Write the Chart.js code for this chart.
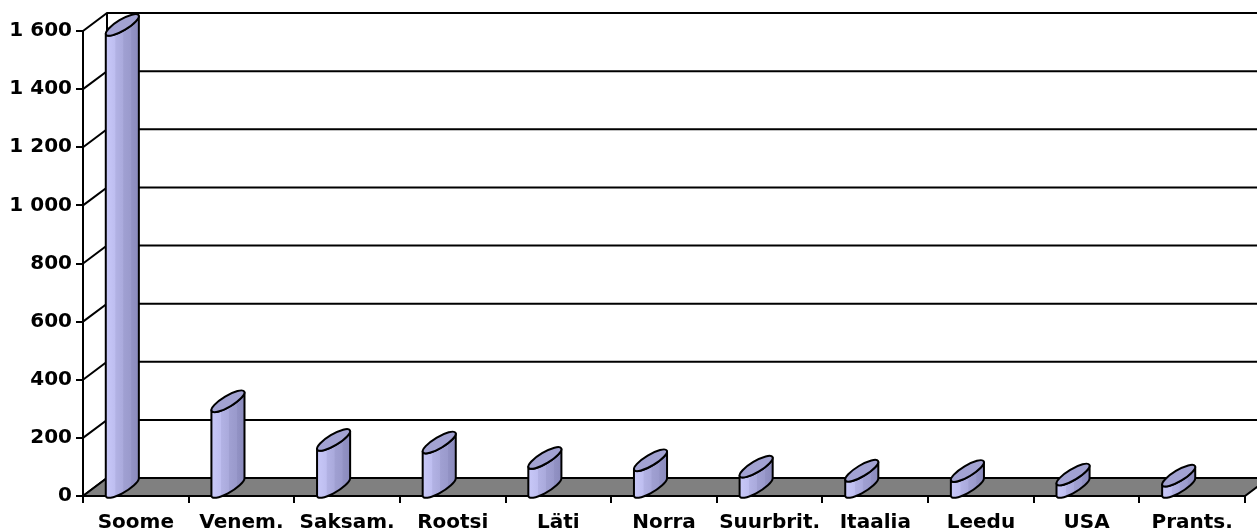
<!DOCTYPE html>
<html>
<head>
<meta charset="utf-8">
<script src="https://cdn.jsdelivr.net/npm/chart.js@4"></script>
<style>
  html, body { margin: 0; padding: 0; background: #fff; }
  #wrap { width: 1257px; height: 531px; }
</style>
</head>
<body>
<div id="wrap"><canvas id="chart"></canvas></div>
<script>
const countries = ['Soome', 'Venem.', 'Saksam.', 'Rootsi', 'Läti', 'Norra', 'Suurbrit.', 'Itaalia', 'Leedu', 'USA', 'Prants.'];
const visitors = [1590, 295, 162, 153, 100, 92, 70, 56, 55, 43, 39];
const yTicks = [0, 200, 400, 600, 800, 1000, 1200, 1400, 1600];

// depth of the 3d box (px)
const DX = 24, DY = 18;

function fmt(v) {
    return String(v).replace(/\B(?=(\d{3})+(?!\d))/g, ' ');
}

function drawCylinder(ctx, cx, yTop, yBot) {
    const a = 19, b = 5.5, r = -0.54;
    const pt = t => [a * Math.cos(t) * Math.cos(r) - b * Math.sin(t) * Math.sin(r),
                     a * Math.cos(t) * Math.sin(r) + b * Math.sin(t) * Math.cos(r)];
    let t0 = Math.atan2(-b * Math.sin(r), a * Math.cos(r));
    let t1 = t0 + Math.PI;
    let tL = t0, tR = t1;
    if (pt(t0)[0] > pt(t1)[0]) { tL = t1; tR = t0; }
    const L = pt(tL), R = pt(tR);
    // which way round is the front half
    let d = ((tR - tL) % (2 * Math.PI) + 2 * Math.PI) % (2 * Math.PI);
    const anti = pt(tL + d / 2)[1] < 0;

    const grad = ctx.createLinearGradient(cx + L[0], 0, cx + R[0], 0);
    grad.addColorStop(0, '#c8c8f8');
    grad.addColorStop(0.28, '#bebef0');
    grad.addColorStop(0.30, '#b2b2e4');
    grad.addColorStop(0.52, '#aaaadc');
    grad.addColorStop(0.54, '#a0a0d2');
    grad.addColorStop(0.76, '#9a9acc');
    grad.addColorStop(0.78, '#9292c4');
    grad.addColorStop(1, '#8a8abc');

    ctx.save();
    ctx.lineWidth = 2;
    ctx.lineJoin = 'round';
    ctx.strokeStyle = '#000';
    ctx.beginPath();
    ctx.moveTo(cx + L[0], yTop + L[1]);
    ctx.lineTo(cx + L[0], yBot + L[1]);
    ctx.ellipse(cx, yBot, a, b, r, tL, tR, anti);
    ctx.lineTo(cx + R[0], yTop + R[1]);
    ctx.ellipse(cx, yTop, a, b, r, tR, tL, !anti);
    ctx.closePath();
    ctx.fillStyle = grad;
    ctx.fill();
    ctx.stroke();

    ctx.beginPath();
    ctx.ellipse(cx, yTop, a, b, r, 0, Math.PI * 2);
    ctx.fillStyle = '#a2a2d2';
    ctx.fill();
    ctx.stroke();
    ctx.restore();
}

const boxPlugin = {
    id: 'box3d',
    beforeDatasetsDraw(chart) {
        const ctx = chart.ctx;
        const y = chart.scales.y;
        const area = chart.chartArea;
        const x0 = area.left, x1 = area.right;
        ctx.save();
        ctx.strokeStyle = '#000';
        ctx.lineWidth = 2;
        // back wall grid lines and side wall diagonals
        yTicks.forEach(v => {
            const py = y.getPixelForValue(v);
            ctx.beginPath();
            ctx.moveTo(x0, py);
            ctx.lineTo(x0 + DX, py - DY);
            ctx.lineTo(chart.width + 5, py - DY);
            ctx.stroke();
        });
        // back left edge
        ctx.beginPath();
        ctx.moveTo(x0 + DX, y.getPixelForValue(1600) - DY);
        ctx.lineTo(x0 + DX, y.getPixelForValue(0) - DY);
        ctx.stroke();
        // floor
        const fy = y.getPixelForValue(0);
        ctx.beginPath();
        ctx.moveTo(x0, fy);
        ctx.lineTo(x1, fy);
        ctx.lineTo(x1 + DX, fy - DY);
        ctx.lineTo(x0 + DX, fy - DY);
        ctx.closePath();
        ctx.fillStyle = '#808080';
        ctx.fill();
        ctx.stroke();
        ctx.restore();

        // cylinders
        const meta = chart.getDatasetMeta(0);
        meta.data.forEach((el, i) => {
            const cx = el.x - 13.5;
            const top = y.getPixelForValue(visitors[i]) - DY / 2;
            const bot = y.getPixelForValue(0) - DY / 2;
            drawCylinder(ctx, cx, top, bot);
        });
    }
};

const ctx = document.getElementById('chart').getContext('2d');
new Chart(ctx, {
    type: 'bar',
    data: {
        labels: countries,
        datasets: [{
            data: visitors,
            backgroundColor: 'rgba(0,0,0,0)',
            borderWidth: 0
        }]
    },
    options: {
        responsive: true,
        maintainAspectRatio: false,
        animation: false,
        layout: { padding: { top: 31, right: 12, left: 0, bottom: 0 } },
        plugins: {
            legend: { display: false },
            tooltip: { enabled: false }
        },
        scales: {
            y: {
                min: 0,
                max: 1600,
                afterFit: s => { s.width = 83; },
                ticks: {
                    stepSize: 200,
                    padding: 4,
                    color: '#000',
                    font: { family: 'DejaVu Sans', weight: 'bold', size: 20 },
                    callback: v => fmt(v)
                },
                grid: { drawOnChartArea: false, tickLength: 7, color: '#000', lineWidth: 2 },
                border: { color: '#000', width: 2 }
            },
            x: {
                afterFit: s => { s.height = 35; },
                ticks: {
                    padding: 8,
                    color: '#000',
                    maxRotation: 0,
                    autoSkip: false,
                    font: { family: 'DejaVu Sans', weight: 'bold', size: 20 }
                },
                grid: { offset: true, drawOnChartArea: false, tickLength: 7, color: '#000', lineWidth: 2 },
                border: { color: '#000', width: 2 }
            }
        }
    },
    plugins: [boxPlugin]
});
</script>
</body>
</html>
